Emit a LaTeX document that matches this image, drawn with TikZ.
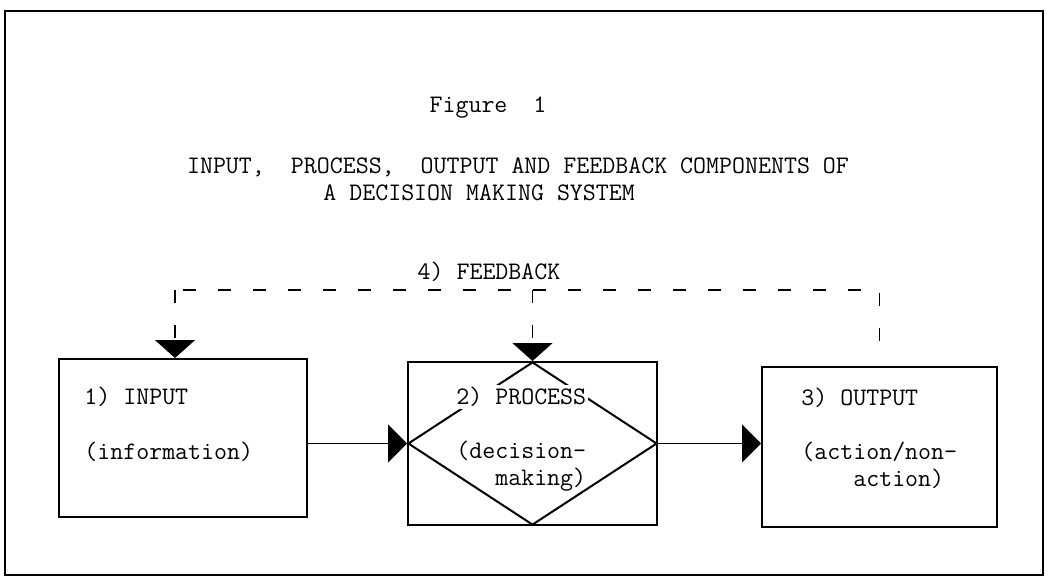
\documentclass[tikz,border=0pt]{standalone}
\usepackage{tikz}
\usetikzlibrary{arrows.meta,shapes.geometric}

\begin{document}
\begin{tikzpicture}[x=0.5pt,y=-0.5pt,
		font=\ttfamily\fontsize{12.6}{13.5}\selectfont]
		\useasboundingbox (0,0) rectangle (1050,580);
		\draw[line width=1pt] (5,11) rectangle (1043,575);

		\node (fig) at (488,108) {Figure\ \ 1};
		\node (head1) at (518,167) {INPUT,\ \ PROCESS,\ \ OUTPUT AND FEEDBACK COMPONENTS OF};
		\node[anchor=west,inner sep=0pt] (head2) at (323,193) {A DECISION MAKING SYSTEM};
		\node (fbtxt) at (489,272) {4) FEEDBACK};

		\begin{scope}[every node/.style={rectangle,line width=1pt,draw,inner sep=0pt}]
			\node[minimum width=124pt,minimum height=79pt] (inp) at (183,438) {};
			\node[minimum width=124.5pt,minimum height=81.5pt] (proc) at (532.5,443.5) {};
			\node[minimum width=117.5pt,minimum height=80pt] (outp) at (879.5,447) {};
			\node[diamond,minimum width=124.5pt,minimum height=81.5pt] (dmd) at (proc) {};
		\end{scope}

		\begin{scope}[every node/.style={anchor=west,align=left,inner sep=1pt}]
			\node (inpA) at (82,397) {1) INPUT};
			\node (inpB) at (82,452) {(information)};
			\node[fill=white] (procA) at (454,397) {2) PROCESS};
			\node (procB) at (454,466.5) {(decision-\\\ \ \ making)};
			\node (outpA) at (799,398) {3) OUTPUT};
			\node (outpB) at (799,465) {(action/non-\\\ \ \ \ action)};
		\end{scope}

		\begin{scope}[>={Triangle[length=9.5pt,width=19pt]},
					  every edge/.style={draw=black,line width=0.8pt}]
			\path [->] (inp.east |- dmd.west) edge (dmd.west);
			\path [->] (dmd.east) edge (outp.west |- dmd.east);
		\end{scope}

		% feedback loop
		\coordinate (fbL) at (175,290);
		\begin{scope}[>={Triangle[length=9pt,width=20pt]},
					  every edge/.style={draw=black,line width=0.8pt,dash pattern=on 6.5pt off 11pt}]
			\path [->] (fbL) edge (fbL |- inp.north);
			\path [->] (proc.north |- fbL) edge (dmd.north);
		\end{scope}
		\draw[line width=0.8pt,dash pattern=on 6.5pt off 11pt]
			([yshift=12.5pt]outp.north) -- (outp.north |- fbL) -- (fbL);
\end{tikzpicture}
\end{document}
